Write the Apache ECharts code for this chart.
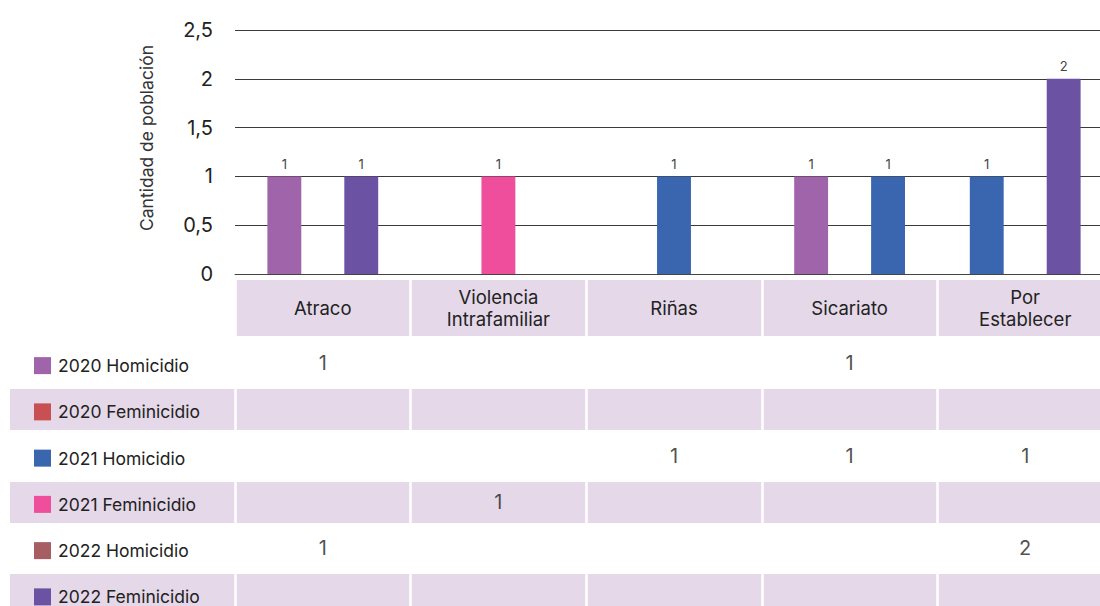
<!DOCTYPE html>
<html>
<head>
<meta charset="utf-8">
<script src="https://cdn.jsdelivr.net/npm/echarts@6/dist/echarts.min.js"></script>
<style>
html,body{margin:0;padding:0;background:#fff;}
#chart{width:1100px;height:606px;}
</style>
</head>
<body>
<div id="chart"></div>
<script>
// ---- data ----
const categories = ['Atraco', 'Violencia\nIntrafamiliar', 'Riñas', 'Sicariato', 'Por\nEstablecer'];
const seriesNames = ['2020 Homicidio', '2020 Feminicidio', '2021 Homicidio', '2021 Feminicidio', '2022 Homicidio', '2022 Feminicidio'];
const homicidio2020 = [1, null, null, 1, null];
const feminicidio2020 = [null, null, null, null, null];
const homicidio2021 = [null, null, 1, 1, 1];
const feminicidio2021 = [null, 1, null, null, null];
const homicidio2022 = [1, null, null, null, 2];
const feminicidio2022 = [null, null, null, null, null];
const yTicks = [0, 0.5, 1, 1.5, 2, 2.5];
const yAxisTitle = 'Cantidad de población';

// ---- styles ----
const legendColors = ['#a064aa', '#c85052', '#3a66b0', '#ee4e9b', '#a65e62', '#6b52a3'];
const barColors = ['#a064aa', '#c85052', '#3a66b0', '#ee4e9b', '#6b52a3', '#6b52a3'];
const shade = '#e5d8e9';
const FONT = 'Inter';

const allSeries = [homicidio2020, feminicidio2020, homicidio2021, feminicidio2021, homicidio2022, feminicidio2022];

// bars: only non-empty series, centred within each category
const barData = [];
categories.forEach((c, ci) => {
  const present = [];
  allSeries.forEach((arr, si) => { if (arr[ci] != null) present.push(si); });
  present.forEach((si, k) => {
    barData.push({ value: [ci, allSeries[si][ci], si, k, present.length] });
  });
});

// table values
const tableData = [];
allSeries.forEach((arr, si) => {
  arr.forEach((v, ci) => { if (v != null) tableData.push([ci, si, v]); });
});

const rich = { t: { fontSize: 17.5, color: '#222', fontFamily: FONT, padding: [0, 0, 0, 7] } };
legendColors.forEach((col, i) => { rich['s' + i] = { width: 17, height: 17, backgroundColor: col }; });

const chart = echarts.init(document.getElementById('chart'), null, { renderer: 'svg' });
chart.setOption({
  animation: false,
  backgroundColor: '#fff',
  textStyle: { fontFamily: FONT },
  grid: [
    { left: 235, width: 878, top: 30, height: 244, outerBoundsMode: 'none', containLabel: false },
    { left: 235, width: 878, top: 280, height: 56, outerBoundsMode: 'none', containLabel: false },
    { left: 235, width: 878, top: 340, height: 277.5, outerBoundsMode: 'none', containLabel: false },
    { left: 10, width: 225, top: 340, height: 277.5, outerBoundsMode: 'none', containLabel: false }
  ],
  xAxis: [
    {
      gridIndex: 0, type: 'category', data: categories, z: 5,
      axisLine: { show: true, lineStyle: { color: '#444', width: 1 } },
      axisTick: { show: false },
      axisLabel: { margin: 34, fontSize: 18.5, color: '#222', lineHeight: 22, verticalAlign: 'middle', fontFamily: FONT, interval: 0 },
      splitLine: { show: false }
    },
    {
      gridIndex: 1, type: 'category', data: categories, z: 1,
      axisLine: { show: false }, axisTick: { show: false }, axisLabel: { show: false },
      splitArea: { show: true, areaStyle: { color: [shade] } },
      splitLine: { show: true, lineStyle: { color: '#fff', width: 2.5 } }
    },
    {
      gridIndex: 2, type: 'category', data: categories, z: 2,
      axisLine: { show: false }, axisTick: { show: false }, axisLabel: { show: false },
      splitLine: { show: true, lineStyle: { color: '#fff', width: 2.5 } }
    },
    { gridIndex: 3, type: 'value', show: false }
  ],
  yAxis: [
    {
      gridIndex: 0, type: 'value', min: yTicks[0], max: yTicks[yTicks.length - 1], interval: 0.5,
      axisLine: { show: false }, axisTick: { show: false },
      axisLabel: { margin: 22, fontSize: 20, color: '#222', fontFamily: FONT, formatter: v => String(v).replace('.', ',') },
      splitLine: { show: true, lineStyle: { color: '#3a3a3a', width: 1 } },
      name: yAxisTitle, nameLocation: 'middle', nameGap: 80, nameRotate: 90,
      nameTextStyle: { fontSize: 17.5, color: '#333', fontFamily: FONT, padding: [0, 0, 0, 28] }
    },
    {
      gridIndex: 1, type: 'category', data: [''], show: false
    },
    {
      gridIndex: 2, type: 'category', data: seriesNames, inverse: true, z: 0,
      axisLine: { show: false }, axisTick: { show: false }, axisLabel: { show: false },
      splitArea: { show: true, areaStyle: { color: ['rgba(255,255,255,0)', shade] } },
      splitLine: { show: true, lineStyle: { color: '#fff', width: 5 } }
    },
    {
      gridIndex: 3, type: 'category', data: seriesNames, inverse: true, z: 0,
      axisLine: { show: false }, axisTick: { show: false },
      axisLabel: {
        inside: true, margin: 24, align: 'left', padding: [5, 0, 0, 0],
        formatter: (val, idx) => '{s' + idx + '|}{t|' + val + '}', rich: rich
      },
      splitArea: { show: true, areaStyle: { color: ['rgba(255,255,255,0)', shade] } },
      splitLine: { show: true, lineStyle: { color: '#fff', width: 5 } }
    }
  ],
  series: [
    {
      type: 'custom', xAxisIndex: 0, yAxisIndex: 0, z: 4,
      encode: { x: 0, y: 1 },
      data: barData,
      renderItem: function (params, api) {
        const v = api.value(1), si = api.value(2), k = api.value(3), n = api.value(4);
        const top = api.coord([api.value(0), v]);
        const base = api.coord([api.value(0), 0]);
        const band = api.size([1, 0])[0];
        const spacing = band * 0.438, w = band * 0.193;
        const cx = top[0] + (k - (n - 1) / 2) * spacing;
        return {
          type: 'group',
          children: [
            { type: 'rect', shape: { x: cx - w / 2, y: top[1], width: w, height: base[1] - top[1] }, style: { fill: barColors[si] } },
            { type: 'text', style: { text: String(v), x: cx, y: top[1] - 6, align: 'center', verticalAlign: 'bottom', fill: '#444', font: '13px ' + FONT } }
          ]
        };
      }
    },
    {
      type: 'scatter', xAxisIndex: 2, yAxisIndex: 2, z: 5,
      symbolSize: 0, data: tableData,
      label: { show: true, position: 'inside', formatter: p => String(p.value[2]), fontSize: 20, color: '#222', fontFamily: FONT }
    }
  ]
});
</script>
</body>
</html>
